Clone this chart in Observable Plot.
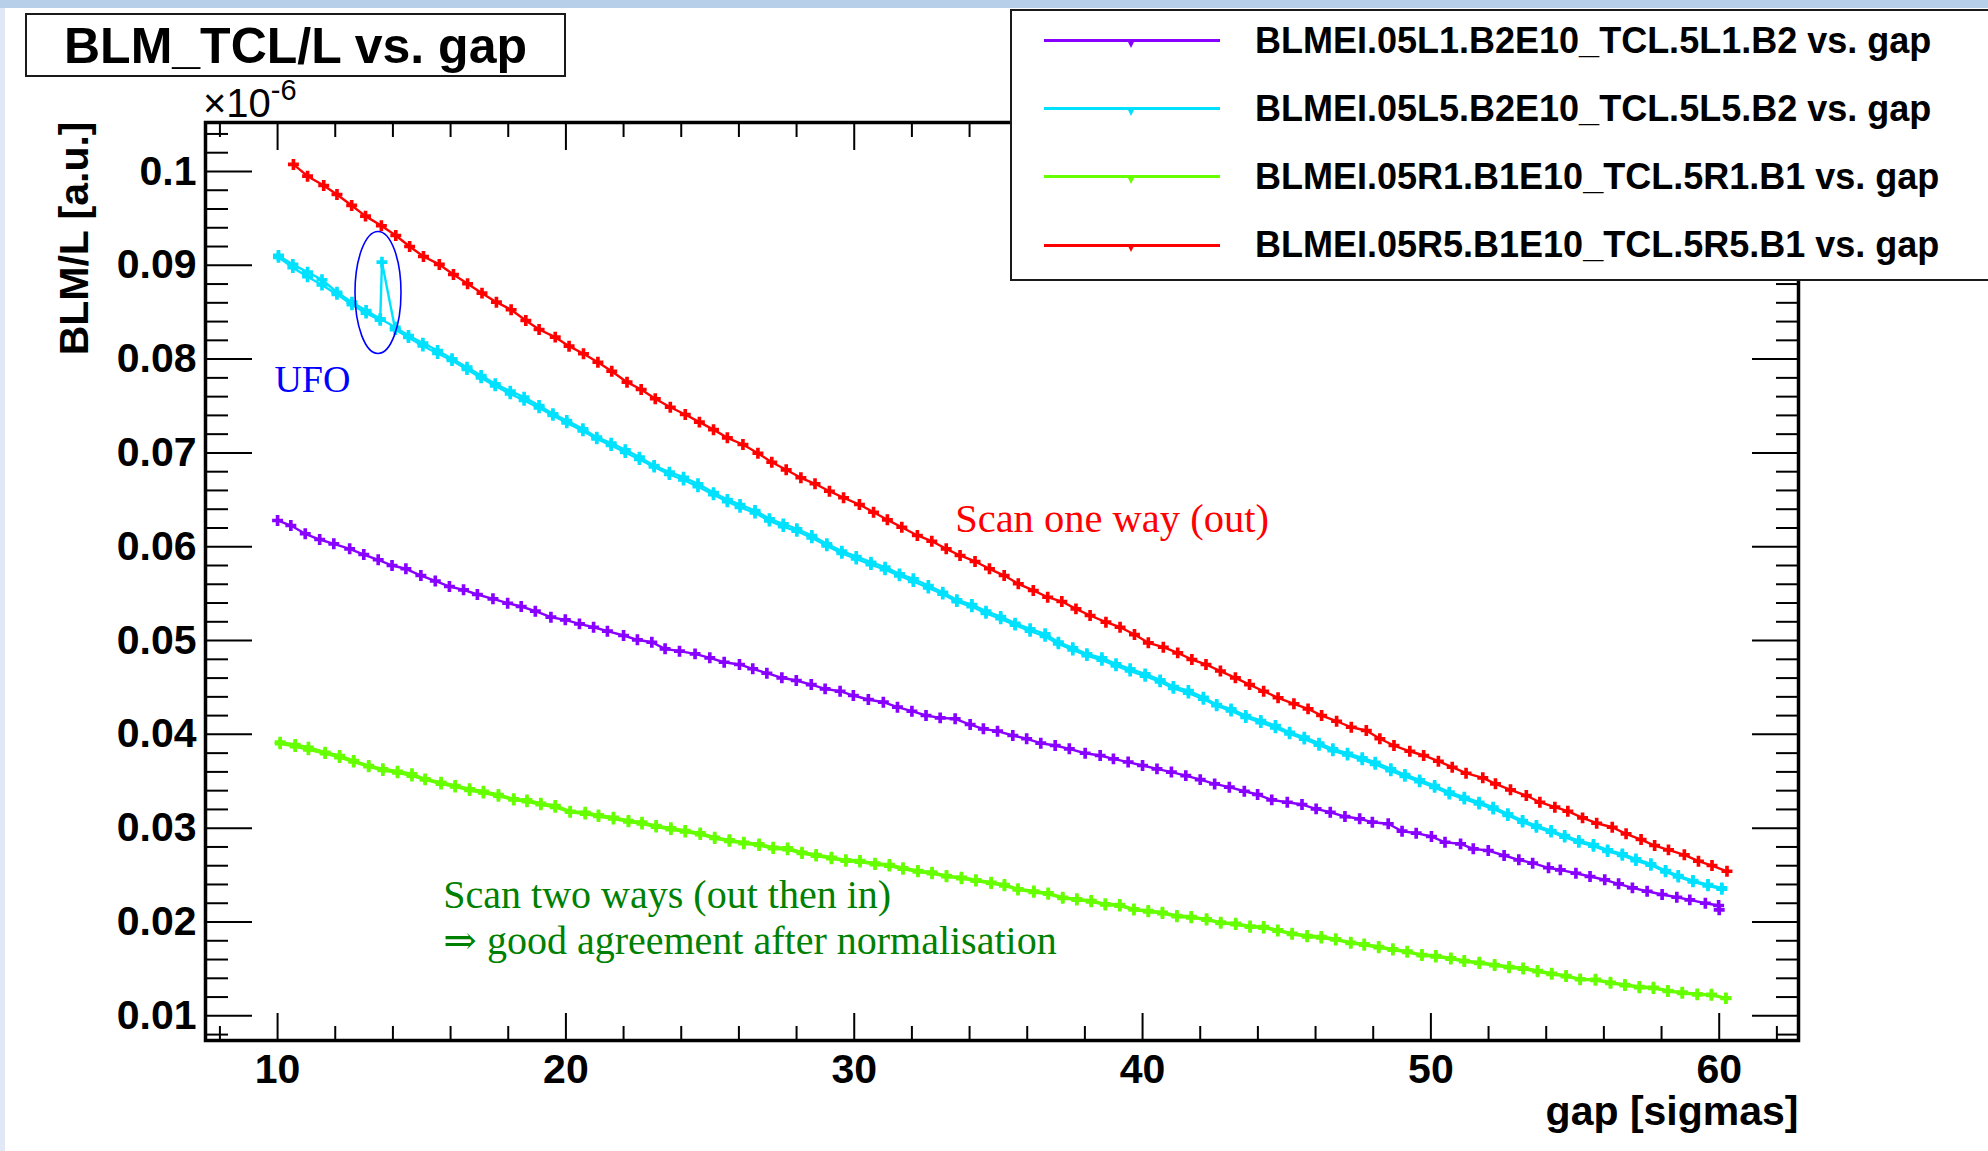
<!DOCTYPE html>
<html><head><meta charset="utf-8">
<script src="https://cdn.jsdelivr.net/npm/d3@7"></script>
<script src="https://cdn.jsdelivr.net/npm/@observablehq/plot@0.6"></script>
<style>
html,body{margin:0;padding:0;background:#fff;}
#wrap{position:relative;width:1988px;height:1151px;overflow:hidden;background:#fff;}
#topband{position:absolute;left:0;top:0;width:1988px;height:8px;background:#b8cfea;}
#leftband{position:absolute;left:0;top:8px;width:5px;height:1143px;background:#dfe8f4;}
#chart{position:absolute;left:0;top:0;}
.box{position:absolute;background:#fff;border:2px solid #1a1a1a;box-sizing:border-box;}
.sans{position:absolute;font-family:"Liberation Sans",Arial,Helvetica,sans-serif;font-weight:bold;color:#000;line-height:1;white-space:nowrap;}
</style></head><body>
<div id="wrap">
  <div id="topband"></div><div id="leftband"></div>
  <div id="chart"></div>
  <div id="title" class="box"></div>
  <div id="legend" class="box"></div>
  <div id="mult" class="sans"></div>
</div>
<script>
// ---------------- data ----------------
const chartTitle = "BLM_TCL/L vs. gap";
const xLabel = "gap [sigmas]";
const yLabel = "BLM/L [a.u.]";
const yMultiplier = ["×10", "-6"];
const xMajor = [10, 20, 30, 40, 50, 60];
const xTickLabels = ["10", "20", "30", "40", "50", "60"];
const yMajor = [0.01, 0.02, 0.03, 0.04, 0.05, 0.06, 0.07, 0.08, 0.09, 0.1];
const yTickLabels = ["0.01", "0.02", "0.03", "0.04", "0.05", "0.06", "0.07", "0.08", "0.09", "0.1"];
const seriesNames = [
  "BLMEI.05L1.B2E10_TCL.5L1.B2 vs. gap",
  "BLMEI.05L5.B2E10_TCL.5L5.B2 vs. gap",
  "BLMEI.05R1.B1E10_TCL.5R1.B1 vs. gap",
  "BLMEI.05R5.B1E10_TCL.5R5.B1 vs. gap"
];
const seriesColors = ["#8800ff", "#00e1ff", "#66ff00", "#ff0000"];

// BLMEI.05L1 (purple) : [gap, value x1e-6]
const purplePts = [
[10.0,.0628],[10.46,.06226],[10.96,.06138],[11.46,.06077],[11.95,.06031],[12.5,.05978],[12.99,.05917],[13.49,.05861],[13.97,.058],[14.45,.05765],
[14.97,.05693],[15.47,.05635],[15.96,.05576],[16.45,.05541],[16.93,.05491],[17.47,.05445],[17.98,.05398],[18.45,.05363],[18.94,.05313],[19.48,.05249],
[19.98,.05221],[20.47,.05178],[20.96,.05142],[21.44,.051],[22.0,.05054],[22.48,.05008],[22.98,.04982],[23.44,.04912],[23.94,.04887],[24.48,.04858],
[24.99,.04816],[25.49,.04769],[26.02,.04745],[26.48,.04699],[26.97,.04652],[27.49,.04603],[27.99,.04574],[28.51,.04531],[28.99,.04485],[29.51,.0446],
[29.97,.04414],[30.49,.04372],[31.01,.04343],[31.5,.0429],[32.0,.04247],[32.49,.04201],[32.98,.04176],[33.5,.04166],[34.02,.04105],[34.48,.04059],
[34.97,.04034],[35.5,.03988],[35.98,.03953],[36.47,.03906],[36.97,.03881],[37.46,.03846],[38.01,.03799],[38.53,.03775],[38.99,.03739],[39.5,.03705],
[40.0,.03668],[40.5,.03632],[41.0,.03598],[41.5,.0356],[42.0,.03518],[42.5,.03472],[43.01,.03437],[43.53,.03394],[43.99,.03359],[44.48,.03302],
[45.02,.03277],[45.53,.03252],[46.02,.03206],[46.51,.0317],[47.02,.03124],[47.53,.031],[47.97,.03064],[48.52,.03047],[49.0,.02968],[49.49,.02947],
[50.02,.02911],[50.49,.0285],[51.03,.02833],[51.47,.0278],[51.99,.02762],[52.54,.02709],[53.05,.02663],[53.53,.02627],[54.08,.02578],[54.49,.02556],
[55.03,.0252],[55.52,.02485],[56.03,.0245],[56.51,.02407],[56.99,.02364],[57.5,.02328],[58.02,.02293],[58.53,.02264],[58.98,.02236],[59.52,.022],
[59.98,.02176],[60.0,.0213]
];

// BLMEI.05L5 (cyan) : scan out, then scan in (with the UFO spike)
const cyanOutPts = [
[10.03,.09105],[10.53,.09009],[11.04,.08927],[11.54,.08846],[12.06,.08713],[12.58,.08607],[13.07,.08518],[13.56,.0843],[14.08,.0834],[14.54,.08252],
[15.04,.0817],[15.55,.08092],[16.05,.08003],[16.57,.07914],[17.06,.07825],[17.55,.07737],[18.07,.07658],[18.55,.07594],[19.07,.07506],[19.55,.07417],
[20.03,.07346],[20.59,.07257],[21.07,.07168],[21.57,.07104],[22.06,.07034],[22.55,.06955],[23.06,.06866],[23.59,.06795],[24.08,.06741],[24.58,.06671],
[25.12,.06577],[25.6,.06504],[26.04,.0645],[26.56,.06386],[27.06,.06298],[27.54,.06244],[28.01,.06191],[28.53,.0612],[29.05,.06031],[29.57,.05953],
[30.07,.05896],[30.58,.05835],[31.07,.05782],[31.57,.05711],[32.05,.05658],[32.57,.05587],[33.07,.05515],[33.56,.05434],[34.08,.05384],[34.57,.05313],
[35.08,.05256],[35.58,.05185],[36.1,.05125],[36.62,.05072],[37.08,.04983],[37.58,.04923],[38.07,.04859],[38.59,.04816],[39.08,.04752],[39.57,.04699],
[40.09,.04645],[40.61,.04581],[41.07,.0451],[41.59,.04467],[42.11,.04396],[42.57,.04318],[43.07,.04272],[43.58,.04201],[44.1,.04148],[44.61,.04094],
[45.1,.04023],[45.61,.0397],[46.12,.03906],[46.6,.03846],[47.11,.03799],[47.62,.0375],[48.07,.03703],[48.61,.03633],[49.1,.03572],[49.61,.03515],
[50.13,.03455],[50.64,.03384],[51.16,.0333],[51.67,.03277],[52.16,.03224],[52.67,.03153],[53.18,.03082],[53.66,.03028],[54.17,.02975],[54.64,.02922],
[55.13,.02868],[55.64,.02826],[56.13,.02769],[56.64,.02726],[57.11,.02673],[57.63,.0262],[58.14,.02549],[58.58,.02495],[59.09,.02442],[59.61,.02399],
[60.09,.02364]
];
const cyanInPts = [
[10.03,.09085],[10.53,.08975],[11.04,.08878],[11.54,.0879],[12.06,.0869],[12.58,.0858],[13.07,.0849],[13.56,.08415],[13.62,.09033],[14.08,.08315],[14.54,.0823],
[15.04,.0814],[15.55,.0806],[16.05,.07985],[16.57,.0789],[17.06,.078],[17.55,.07715],[18.07,.0763],[18.55,.0756],[19.07,.0748],[19.55,.074],
[20.03,.0732],[20.59,.07235],[21.07,.0715],[21.57,.0708],[22.06,.07005],[22.55,.0693],[23.06,.0685],[23.59,.0677],[24.08,.06712],[24.58,.0664],
[25.12,.06555],[25.6,.0648],[26.04,.0642],[26.56,.0636],[27.06,.06275],[27.54,.06215],[28.01,.06165],[28.53,.06095],[29.05,.0601],[29.57,.0593],
[30.07,.0587],[30.58,.0581],[31.07,.05755],[31.57,.0569],[32.05,.0563],[32.57,.0556],[33.07,.05495],[33.56,.05415],[34.08,.0536],[34.57,.0529],
[35.08,.05232],[35.58,.05165],[36.1,.051],[36.62,.05045],[37.08,.04965],[37.58,.049],[38.07,.0484],[38.59,.0479],[39.08,.0473],[39.57,.04675],
[40.09,.0462],[40.61,.0456],[41.07,.0449],[41.59,.0444],[42.11,.04375],[42.57,.04305],[43.07,.0425],[43.58,.0418],[44.1,.04125],[44.61,.0407],
[45.1,.04005],[45.61,.0395],[46.12,.03885],[46.6,.03825],[47.11,.0378],[47.62,.03728],[48.07,.0368],[48.61,.03612],[49.1,.03552],[49.61,.03495],
[50.13,.03435],[50.64,.03365],[51.16,.0331],[51.67,.03258],[52.16,.03205],[52.67,.03135],[53.18,.03065],[53.66,.0301],[54.17,.02958],[54.64,.02905],
[55.13,.0285],[55.64,.02808],[56.13,.02752],[56.64,.0271],[57.11,.02655],[57.63,.02605],[58.14,.02535],[58.58,.0248],[59.09,.02428],[59.61,.02385],
[60.09,.0235]
];

// BLMEI.05R1 (green) : scan out, then scan in
const greenOutPts = [
[10.09,.03917],[10.61,.03892],[11.07,.03863],[11.65,.0381],[12.15,.03775],[12.64,.03721],[13.16,.03668],[13.65,.03633],[14.16,.03607],[14.66,.0358],
[15.12,.03526],[15.67,.0349],[16.16,.03455],[16.66,.0342],[17.14,.03394],[17.66,.03359],[18.19,.03313],[18.65,.03302],[19.13,.03266],[19.63,.03242],
[20.15,.03181],[20.67,.0317],[21.13,.03142],[21.65,.03117],[22.17,.03082],[22.64,.03064],[23.13,.03028],[23.64,.03004],[24.14,.02975],[24.66,.0295],
[25.16,.02904],[25.67,.02876],[26.17,.0285],[26.7,.02833],[27.19,.02797],[27.69,.0279],[28.19,.02744],[28.68,.02719],[29.21,.0269],[29.71,.02663],
[30.2,.02655],[30.72,.02627],[31.22,.02613],[31.69,.02578],[32.21,.02549],[32.7,.02531],[33.2,.02495],[33.72,.02477],[34.22,.0245],[34.75,.02424],
[35.21,.024],[35.68,.02354],[36.23,.0233],[36.73,.0231],[37.23,.02264],[37.72,.02247],[38.22,.02229],[38.71,.02194],[39.21,.02186],[39.7,.0214],
[40.2,.02122],[40.69,.02104],[41.19,.02069],[41.69,.02058],[42.22,.02034],[42.71,.01998],[43.23,.01987],[43.73,.01957],[44.2,.01952],[44.69,.01916],
[45.19,.0188],[45.71,.01856],[46.2,.01845],[46.7,.01821],[47.22,.01784],[47.69,.01767],[48.19,.01739],[48.68,.01714],[49.18,.01689],[49.69,.01653],
[50.17,.01643],[50.69,.01618],[51.16,.0159],[51.68,.01571],[52.21,.01547],[52.71,.01526],[53.2,.01511],[53.7,.01483],[54.19,.01454],[54.69,.0143],
[55.18,.01394],[55.71,.0139],[56.23,.01358],[56.73,.01334],[57.23,.01312],[57.72,.01305],[58.22,.0127],[58.72,.01252],[59.24,.01234],[59.73,.0123],
[60.23,.01191]
];
const greenInPts = [
[10.09,.039],[10.61,.0387],[11.07,.03835],[11.65,.03795],[12.15,.03752],[12.64,.03705],[13.16,.03655],[13.65,.03615],[14.16,.0359],[14.66,.03555],
[15.12,.03515],[15.67,.0347],[16.16,.0344],[16.66,.03402],[17.14,.03375],[17.66,.0334],[18.19,.033],[18.65,.03282],[19.13,.0325],[19.63,.03222],
[20.15,.0317],[20.67,.0315],[21.13,.03125],[21.65,.03098],[22.17,.03068],[22.64,.03045],[23.13,.03012],[23.64,.02985],[24.14,.0296],[24.66,.02932],
[25.16,.0289],[25.67,.0286],[26.17,.02835],[26.7,.02815],[27.19,.02782],[27.69,.0277],[28.19,.0273],[28.68,.02702],[29.21,.02675],[29.71,.02648],
[30.2,.02638],[30.72,.02612],[31.22,.02596],[31.69,.02562],[32.21,.02535],[32.7,.02515],[33.2,.02482],[33.72,.02462],[34.22,.02436],[34.75,.0241],
[35.21,.02385],[35.68,.02342],[36.23,.02316],[36.73,.02296],[37.23,.02252],[37.72,.02233],[38.22,.02215],[38.71,.02182],[39.21,.0217],[39.7,.02128],
[40.2,.02108],[40.69,.0209],[41.19,.02056],[41.69,.02044],[42.22,.0202],[42.71,.01986],[43.23,.01972],[43.73,.01944],[44.2,.01935],[44.69,.01903],
[45.19,.01868],[45.71,.01842],[46.2,.0183],[46.7,.01808],[47.22,.01772],[47.69,.01752],[48.19,.01726],[48.68,.017],[49.18,.01676],[49.69,.01642],
[50.17,.01628],[50.69,.01605],[51.16,.01578],[51.68,.01558],[52.21,.01535],[52.71,.01513],[53.2,.01498],[53.7,.0147],[54.19,.01442],[54.69,.01418],
[55.18,.01384],[55.71,.01378],[56.23,.01346],[56.73,.01322],[57.23,.013],[57.72,.01292],[58.22,.0126],[58.72,.0124],[59.24,.01224],[59.73,.01218],
[60.23,.01185]
];

// BLMEI.05R5 (red) : scan one way (out)
const redPts = [
[10.55,.10075],[11.04,.0995],[11.6,.0985],[12.06,.09755],[12.57,.09638],[13.05,.09524],[13.6,.09421],[14.1,.09318],[14.58,.092],[15.06,.09094],
[15.61,.09009],[16.1,.08902],[16.59,.08803],[17.09,.08703],[17.59,.08607],[18.1,.08526],[18.61,.08412],[19.07,.08316],[19.63,.08234],[20.11,.08138],
[20.61,.08057],[21.11,.07967],[21.59,.07871],[22.12,.07754],[22.61,.07676],[23.1,.07577],[23.62,.07487],[24.14,.0741],[24.63,.07328],[25.12,.07248],
[25.6,.07161],[26.14,.0709],[26.66,.06997],[27.14,.06901],[27.64,.0682],[28.15,.06735],[28.64,.06671],[29.14,.06592],[29.63,.06522],[30.18,.0645],
[30.67,.06368],[31.15,.06287],[31.65,.06208],[32.19,.0612],[32.69,.06059],[33.19,.05978],[33.67,.05907],[34.19,.05843],[34.69,.05765],[35.2,.05693],
[35.69,.05605],[36.21,.05534],[36.71,.05462],[37.2,.05416],[37.69,.05338],[38.18,.05267],[38.73,.05196],[39.22,.05142],[39.72,.05064],[40.2,.04976],
[40.72,.04929],[41.22,.04869],[41.71,.04798],[42.2,.04745],[42.7,.04675],[43.22,.04603],[43.71,.04531],[44.2,.0446],[44.7,.0439],[45.25,.04326],
[45.74,.04272],[46.21,.04201],[46.73,.0414],[47.24,.04076],[47.76,.04041],[48.23,.03953],[48.72,.03881],[49.27,.0382],[49.75,.03775],[50.26,.03714],
[50.74,.0365],[51.22,.03586],[51.8,.03537],[52.24,.03473],[52.76,.03409],[53.31,.03348],[53.78,.03277],[54.3,.03224],[54.75,.03181],[55.26,.0311],
[55.75,.03053],[56.29,.0301],[56.77,.0294],[57.29,.02879],[57.76,.02815],[58.24,.02769],[58.79,.02716],[59.28,.02648],[59.75,.02602],[60.27,.02541]
];

// annotation texts
const ufoText = "UFO";
const redNote = "Scan one way (out)";
const greenNote1 = "Scan two ways (out then in)";
const greenNote2 = "⇒ good agreement after normalisation";

// ---------------- build ----------------
const SANS = '"Liberation Sans", Arial, Helvetica, sans-serif';
const SERIF = '"Liberation Serif", "Times New Roman", "DejaVu Serif", serif';
const toRows = pts => pts.map(([gap, val]) => ({gap, val}));
const traces = [
  {rows: toRows(purplePts), color: seriesColors[0]},
  {rows: toRows(cyanOutPts), color: seriesColors[1]},
  {rows: toRows(cyanInPts), color: seriesColors[1]},
  {rows: toRows(greenOutPts), color: seriesColors[2]},
  {rows: toRows(greenInPts), color: seriesColors[2]},
  {rows: toRows(redPts), color: seriesColors[3]}
];
const xMinor = d3.range(8, 63, 2).filter(v => v % 10 !== 0);
const yMinor = d3.range(8, 105, 2).filter(v => v % 10 !== 0).map(v => v / 1000);
const fmtY = d => yTickLabels[yMajor.findIndex(t => Math.abs(t - d) < 1e-9)];
const fmtX = d => xTickLabels[xMajor.indexOf(d)];

const tickStyle = {text: null, label: null, strokeWidth: 2};
const chart = Plot.plot({
  width: 1988, height: 1151,
  marginLeft: 205, marginRight: 190, marginTop: 122, marginBottom: 111,
  x: {domain: [7.5, 62.75]},
  y: {domain: [0.00737, 0.10522]},
  style: {background: "transparent", color: "#000", fontFamily: SANS, overflow: "visible"},
  marks: [
    ...traces.flatMap(t => [
      Plot.line(t.rows, {x: "gap", y: "val", stroke: t.color, strokeWidth: 2.4}),
      Plot.dot(t.rows, {x: "gap", y: "val", symbol: "cross", r: 4.6, fill: t.color, stroke: "none"})
    ]),
    // UFO ring
    Plot.dot([{gap: 13.5, val: 0.08705}], {x: "gap", y: "val",
      render: (index, scales, values) => {
        const g = d3.create("svg:g");
        for (const i of index) g.append("ellipse").attr("cx", values.x[i]).attr("cy", values.y[i])
          .attr("rx", 23).attr("ry", 61).attr("fill", "none").attr("stroke", "#0000ff").attr("stroke-width", 1.6);
        return g.node();
      }}),
    Plot.text([ufoText], {x: 9.89, y: 0.07774, text: d => d, textAnchor: "start", lineAnchor: "middle",
      fill: "#0000ff", fontSize: 38, fontFamily: SERIF}),
    Plot.text([redNote], {x: 33.5, y: 0.06299, text: d => d, textAnchor: "start", lineAnchor: "middle",
      fill: "#ff0000", fontSize: 40.5, fontFamily: SERIF}),
    Plot.text([greenNote1], {x: 15.75, y: 0.0229, text: d => d, textAnchor: "start", lineAnchor: "middle",
      fill: "#008000", fontSize: 40, fontFamily: SERIF}),
    Plot.text([greenNote2], {x: 15.75, y: 0.018, text: d => d, textAnchor: "start", lineAnchor: "middle",
      fill: "#008000", fontSize: 40, fontFamily: SERIF}),
    // ticks (inward, ROOT style)
    Plot.axisY(yMajor, {anchor: "left", tickSize: 47, dx: 47, ...tickStyle}),
    Plot.axisY(yMinor, {anchor: "left", tickSize: 23, dx: 23, ...tickStyle}),
    Plot.axisY(yMajor, {anchor: "right", tickSize: 47, dx: -47, ...tickStyle}),
    Plot.axisY(yMinor, {anchor: "right", tickSize: 23, dx: -23, ...tickStyle}),
    Plot.axisX(xMajor, {anchor: "bottom", tickSize: 27, dy: -27, ...tickStyle}),
    Plot.axisX(xMinor, {anchor: "bottom", tickSize: 14, dy: -14, ...tickStyle}),
    Plot.axisX(xMajor, {anchor: "top", tickSize: 27, dy: 27, ...tickStyle}),
    Plot.axisX(xMinor, {anchor: "top", tickSize: 14, dy: 14, ...tickStyle}),
    // tick labels
    Plot.axisY(yMajor, {anchor: "left", tickSize: 0, tickPadding: 9, tickFormat: fmtY, label: null,
      fontSize: 41, fontWeight: "bold"}),
    Plot.axisX(xMajor, {anchor: "bottom", tickSize: 0, tickPadding: 13, tickFormat: fmtX, label: null,
      fontSize: 41, fontWeight: "bold"}),
    // axis titles
    Plot.text([xLabel], {text: d => d, frameAnchor: "bottom-right", textAnchor: "end", lineAnchor: "top",
      dy: 55, fontSize: 41, fontWeight: "bold"}),
    Plot.text([yLabel], {text: d => d, frameAnchor: "top-left", rotate: -90, textAnchor: "end", lineAnchor: "middle",
      dx: -131, dy: -1, fontSize: 41, fontWeight: "bold"}),
    Plot.frame({strokeWidth: 3.5})
  ]
});
document.getElementById("chart").append(chart);

// title box
const title = document.getElementById("title");
Object.assign(title.style, {left: "25px", top: "13px", width: "541px", height: "64px"});
const tt = document.createElement("div");
tt.className = "sans";
tt.textContent = chartTitle;
Object.assign(tt.style, {left: "0", width: "100%", textAlign: "center", fontSize: "50px", top: (48 - 0.8465 * 50) + "px"});
title.append(tt);

// multiplier
const mult = document.getElementById("mult");
mult.style.fontWeight = "normal";
Object.assign(mult.style, {left: "203px", top: (117 - 0.8465 * 40) + "px", fontSize: "40px"});
mult.innerHTML = `${yMultiplier[0]}<span style="font-size:29px;position:relative;top:-17px;">${yMultiplier[1]}</span>`;

// legend
const legend = document.getElementById("legend");
Object.assign(legend.style, {left: "1010px", top: "9px", width: "1000px", height: "272px"});
seriesNames.forEach((name, i) => {
  const yc = 40.7 + 68.1 * i - 11; // relative to legend content box
  const line = document.createElement("div");
  Object.assign(line.style, {position: "absolute", left: "32px", width: "176px", top: (yc - 1.5) + "px", height: "3px", background: seriesColors[i]});
  legend.append(line);
  const tri = document.createElement("div");
  Object.assign(tri.style, {position: "absolute", left: (119 - 3.5) + "px", top: (yc + 1) + "px", width: "0", height: "0",
    borderLeft: "3.5px solid transparent", borderRight: "3.5px solid transparent", borderTop: "6px solid " + seriesColors[i]});
  legend.append(tri);
  const tx = document.createElement("div");
  tx.className = "sans";
  tx.textContent = name;
  Object.assign(tx.style, {left: "243px", top: (yc + 12.9 - 0.8465 * 36) + "px", fontSize: "36px"});
  legend.append(tx);
});
</script>
</body></html>
